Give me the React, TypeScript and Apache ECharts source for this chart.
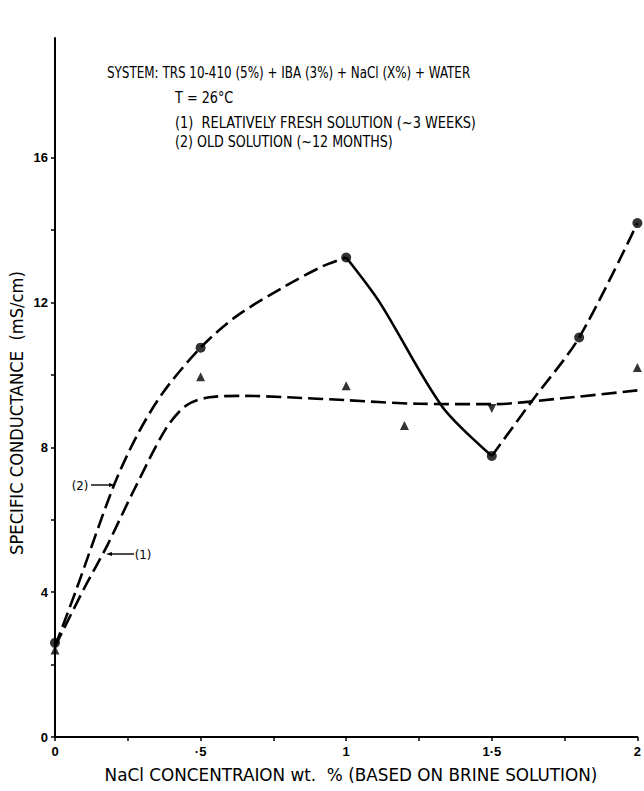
import React, { useEffect, useRef } from "react";
import * as echarts from "echarts";

// Axis ticks and labels
const xTickValues = [0, 0.25, 0.5, 0.75, 1, 1.25, 1.5, 1.75, 2];
const xLabelValues = [0, 0.5, 1, 1.5, 2];
const xLabelTexts = ["0", "·5", "1", "1·5", "2"];
const yTickValues = [0, 2, 4, 6, 8, 10, 12, 14, 16];
const yLabelValues = [0, 4, 8, 12, 16];

// (2) old solution: measured points (circles)
const oldX = [0, 0.5, 1, 1.5, 1.8, 2];
const oldY = [2.6, 10.75, 13.24, 7.76, 11.03, 14.19];

// (1) relatively fresh solution: measured points (triangles)
const freshX = [0, 0.5, 1, 1.2, 1.5, 2];
const freshY = [2.4, 9.95, 9.7, 8.6, 9.07, 10.2];

// hand-drawn curve for (2)
const oldCurveX = [0, 0.07, 0.2, 0.28, 0.37, 0.5, 0.62, 0.78, 0.92, 1, 1.115, 1.33, 1.5, 1.64, 1.8, 2];
const oldCurveY = [2.5, 4.0, 6.9, 8.3, 9.5, 10.75, 11.6, 12.4, 13.0, 13.24, 12.0, 9.12, 7.76, 9.3, 11.03, 14.19];

// hand-drawn curve for (1)
const freshCurveX = [0, 0.1, 0.18, 0.27, 0.38, 0.45, 0.53, 0.65, 0.8, 1, 1.25, 1.5, 1.75, 2];
const freshCurveY = [2.5, 4.1, 5.3, 6.8, 8.5, 9.15, 9.38, 9.42, 9.38, 9.3, 9.2, 9.19, 9.36, 9.57];

const FONT = "'Liberation Sans Narrow', 'DejaVu Sans Condensed', 'Liberation Sans', sans-serif";
const BOLD = "'Liberation Sans', 'DejaVu Sans', sans-serif";

const zip = (xs: number[], ys: number[]) => xs.map((x, i) => [x, ys[i]]);
const range = (xs: number[], ys: number[], a: number, b: number) =>
  zip(xs, ys).filter((p) => p[0] >= a && p[0] <= b);

export default function App() {
  const ref = useRef<HTMLDivElement>(null);
  useEffect(() => {
    document.body.style.margin = "0";
    if (!ref.current) return;
    const chart = echarts.init(ref.current, null, { renderer: "svg" });
    const lineBase = { type: "line", smooth: 0.3, showSymbol: false, symbol: "none", silent: true, z: 2 };
    const dashed = { color: "#000", width: 2.6, type: [15, 6] as any };
    const solid = { color: "#000", width: 2.6, type: "solid" as any };
    const txt = (text: string, x: number, y: number, sx: number) => ({
      type: "text",
      x,
      y,
      scaleX: sx,
      style: { text, font: `15px ${FONT}`, fill: "#000", align: "left", verticalAlign: "middle" },
    });
    const option: any = {
      animation: false,
      backgroundColor: "#ffffff",
      grid: { left: 55, right: 6, top: 38, bottom: 54, containLabel: false },
      xAxis: {
        type: "value",
        min: 0,
        max: 2,
        axisLine: { show: true, lineStyle: { color: "#000", width: 2 } },
        axisTick: { show: true, customValues: xTickValues, length: 4, lineStyle: { color: "#000", width: 1.5 } },
        axisLabel: {
          customValues: xLabelValues,
          formatter: (v: number) => xLabelTexts[xLabelValues.indexOf(v)] ?? "",
          color: "#000",
          fontFamily: BOLD,
          fontWeight: "bold",
          fontSize: 13,
          margin: 8,
        },
        splitLine: { show: false },
      },
      yAxis: {
        type: "value",
        min: 0,
        max: 19.3,
        axisLine: { show: true, lineStyle: { color: "#000", width: 2 } },
        axisTick: { show: true, customValues: yTickValues, length: 4, lineStyle: { color: "#000", width: 1.5 } },
        axisLabel: {
          customValues: yLabelValues,
          color: "#000",
          fontFamily: BOLD,
          fontWeight: "bold",
          fontSize: 13,
          margin: 7,
        },
        splitLine: { show: false },
      },
      series: [
        { ...lineBase, data: range(oldCurveX, oldCurveY, 0, 1), lineStyle: dashed },
        { ...lineBase, data: range(oldCurveX, oldCurveY, 1, 1.5), lineStyle: solid },
        { ...lineBase, data: range(oldCurveX, oldCurveY, 1.5, 2), lineStyle: dashed },
        { ...lineBase, data: zip(freshCurveX, freshCurveY), lineStyle: dashed },
        {
          type: "scatter",
          symbol: "circle",
          symbolSize: 10,
          itemStyle: { color: "#000" },
          data: zip(oldX, oldY),
          z: 3,
        },
        {
          type: "scatter",
          symbol: "triangle",
          symbolSize: 9,
          itemStyle: { color: "#000" },
          data: zip(freshX, freshY).map((p, i) => (i === 4 ? { value: p, symbolRotate: 180 } : p)),
          z: 3,
        },
      ],
      graphic: [
        txt("SYSTEM: TRS 10-410 (5%) + IBA (3%) + NaCl (X%) + WATER", 107, 73, 0.885),
        txt("T = 26°C", 175, 97, 0.95),
        txt("(1)  RELATIVELY FRESH SOLUTION (~3 WEEKS)", 175, 122, 0.96),
        txt("(2) OLD SOLUTION (~12 MONTHS)", 175, 141, 0.94),
        {
          type: "text",
          x: 17,
          y: 413,
          rotation: Math.PI / 2,
          scaleX: 1.07,
          style: {
            text: "SPECIFIC CONDUCTANCE  (mS/cm)",
            font: `17px ${FONT}`,
            fill: "#000",
            align: "center",
            verticalAlign: "middle",
          },
        },
        {
          type: "text",
          x: 351,
          y: 775,
          scaleX: 1.1,
          style: {
            text: "NaCl CONCENTRAION wt.  % (BASED ON BRINE SOLUTION)",
            font: `17px ${FONT}`,
            fill: "#000",
            align: "center",
            verticalAlign: "middle",
          },
        },
        {
          type: "text",
          x: 80,
          y: 485,
          style: { text: "(2)", font: `13px ${FONT}`, fill: "#000", align: "center", verticalAlign: "middle" },
        },
        { type: "line", shape: { x1: 91, y1: 485, x2: 112, y2: 485 }, style: { stroke: "#000", lineWidth: 1.4 } },
        { type: "polygon", shape: { points: [[115, 485], [109, 483], [109, 487]] }, style: { fill: "#000" } },
        {
          type: "text",
          x: 143,
          y: 554,
          style: { text: "(1)", font: `13px ${FONT}`, fill: "#000", align: "center", verticalAlign: "middle" },
        },
        { type: "line", shape: { x1: 109, y1: 554, x2: 134, y2: 554 }, style: { stroke: "#000", lineWidth: 1.4 } },
        { type: "polygon", shape: { points: [[106, 554], [112, 552], [112, 556]] }, style: { fill: "#000" } },
      ],
    };
    chart.setOption(option);
    return () => chart.dispose();
  }, []);
  return <div ref={ref} style={{ width: 644, height: 791 }} />;
}
